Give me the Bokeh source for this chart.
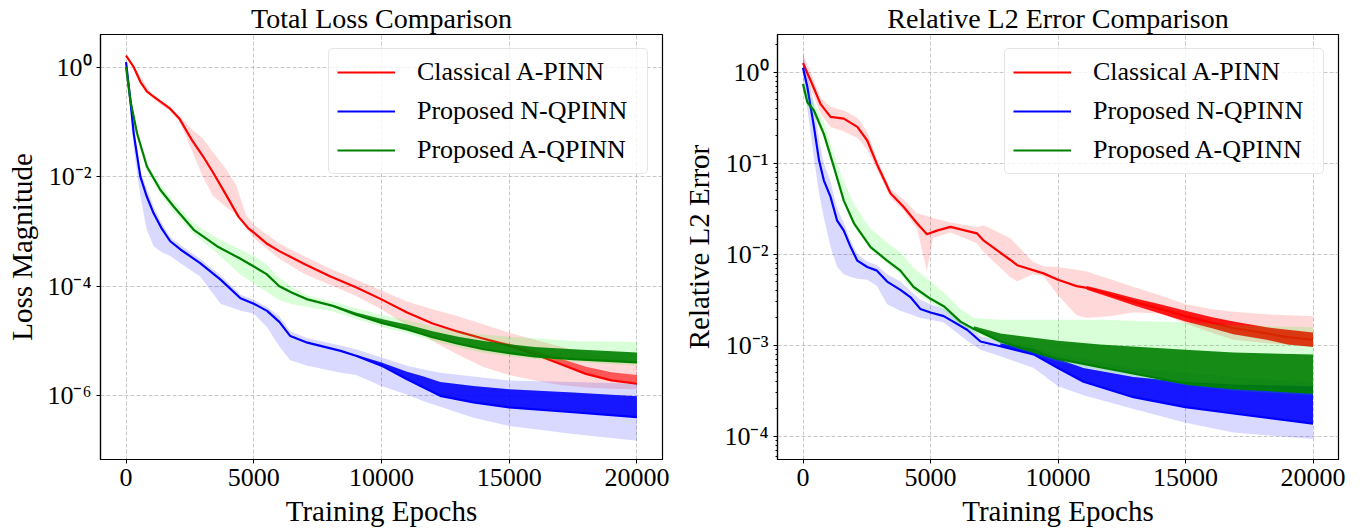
from bokeh.plotting import figure
from bokeh.models import FixedTicker, CustomJSTickFormatter, Range1d, Legend
from bokeh.layouts import row
from bokeh.embed import file_html
from bokeh.resources import INLINE

FONT = "Liberation Serif"

# ---------------- Left panel: Total Loss ----------------
loss_red_ep = [0, 300, 560, 820, 1200, 1700, 2100, 2600, 3000, 3400, 3900, 4400, 4800, 5000, 5500, 6000,
               7000, 8000, 9000, 10000, 11000, 12000, 13000, 14000, 15000, 16000, 17000, 18000, 19000, 20000]
loss_red_mean = [1.62, 1.0, 0.537, 0.355, 0.263, 0.178, 0.112, 0.0447, 0.024, 0.012, 4.79e-3, 1.86e-3, 1.12e-3,
                 9.55e-4, 6.03e-4, 4.37e-4, 2.51e-4, 1.51e-4, 9.55e-5, 5.75e-5, 3.31e-5, 2.09e-5, 1.48e-5,
                 1.10e-5, 8.13e-6, 5.75e-6, 3.80e-6, 2.51e-6, 1.91e-6, 1.66e-6]
loss_red_band_ep = [0, 1000, 1700, 2100, 2600, 3000, 3400, 3900, 4300, 4700, 5000, 6000, 7000, 8000, 9000,
                    10000, 11000, 12000, 13000, 14000, 15000, 16000, 17000, 18000, 19000, 20000]
loss_red_hi = [1.70, 0.324, 0.191, 0.126, 0.0708, 0.0501, 0.0282, 0.0141, 7.08e-3, 2.00e-3, 1.32e-3, 6.03e-4,
               3.47e-4, 2.09e-4, 1.32e-4, 8.32e-5, 5.25e-5, 3.80e-5, 2.82e-5, 2.00e-5, 1.41e-5, 1.05e-5,
               7.94e-6, 6.03e-6, 5.01e-6, 4.17e-6]
loss_red_lo = [1.55, 0.275, 0.158, 0.100, 0.0282, 0.0100, 4.47e-3, 2.82e-3, 2.09e-3, 1.20e-3, 7.59e-4, 3.16e-4,
               1.66e-4, 1.05e-4, 6.61e-5, 3.80e-5, 1.91e-5, 1.00e-5, 5.62e-6, 3.31e-6, 2.40e-6, 1.91e-6,
               1.58e-6, 1.41e-6, 1.35e-6, 1.32e-6]
loss_red_noise_ep = [14000, 15000, 16000, 17000, 18000, 19000, 20000]
loss_red_noise_lo = [1.10e-5, 8.13e-6, 5.75e-6, 3.80e-6, 2.51e-6, 1.91e-6, 1.66e-6]
loss_red_noise_hi = [1.15e-5, 8.91e-6, 6.76e-6, 4.79e-6, 3.39e-6, 2.69e-6, 2.40e-6]

loss_blue_ep = [0, 170, 300, 560, 800, 1080, 1400, 1730, 2130, 2900, 3700, 4480, 5000, 5520, 6000, 6430, 7100,
                8400, 9000, 10000, 11000, 11650, 12300, 13600, 15000, 17500, 20000]
loss_blue_mean = [1.23, 0.245, 0.0617, 0.0100, 4.47e-3, 2.14e-3, 1.12e-3, 6.61e-4, 4.68e-4, 2.63e-4, 1.32e-4,
                  6.03e-5, 4.79e-5, 3.55e-5, 2.24e-5, 1.23e-5, 9.33e-6, 6.61e-6, 5.37e-6, 3.55e-6, 2.00e-6,
                  1.41e-6, 1.00e-6, 7.59e-7, 6.17e-7, 5.01e-7, 4.07e-7]
loss_blue_hi = [1.32, 0.316, 0.0794, 0.0126, 6.31e-3, 2.82e-3, 1.41e-3, 7.94e-4, 5.62e-4, 3.16e-4, 1.58e-4,
                7.08e-5, 5.62e-5, 4.17e-5, 2.82e-5, 1.51e-5, 1.12e-5, 8.32e-6, 7.08e-6, 5.01e-6, 3.55e-6,
                3.02e-6, 2.63e-6, 2.24e-6, 1.91e-6, 1.78e-6, 1.66e-6]
loss_blue_lo = [1.12, 0.158, 0.0316, 4.47e-3, 1.12e-3, 5.37e-4, 4.17e-4, 3.55e-4, 2.63e-4, 1.51e-4, 4.79e-5,
                3.55e-5, 3.16e-5, 1.78e-5, 7.94e-6, 4.47e-6, 3.55e-6, 2.63e-6, 2.40e-6, 1.51e-6, 1.05e-6,
                7.94e-7, 6.31e-7, 3.98e-7, 2.82e-7, 2.00e-7, 1.51e-7]
loss_blue_noise_ep = [9000, 10000, 11000, 11650, 12300, 13600, 15000, 17500, 20000]
loss_blue_noise_lo = [5.37e-6, 3.55e-6, 2.00e-6, 1.41e-6, 1.00e-6, 7.59e-7, 6.17e-7, 5.01e-7, 4.07e-7]
loss_blue_noise_hi = [5.62e-6, 4.07e-6, 2.75e-6, 2.24e-6, 1.78e-6, 1.51e-6, 1.32e-6, 1.15e-6, 9.77e-7]

loss_green_ep = [0, 170, 430, 820, 1340, 1870, 2650, 3560, 4480, 5000, 5500, 6000, 6500, 7100, 8100, 9000,
                 10000, 11000, 12000, 13000, 14000, 15000, 16000, 17500, 20000]
loss_green_mean = [1.0, 0.245, 0.0617, 0.0151, 5.75e-3, 2.82e-3, 1.07e-3, 5.37e-4, 3.16e-4, 2.29e-4, 1.66e-4,
                   1.00e-4, 7.59e-5, 5.75e-5, 4.37e-5, 3.02e-5, 2.14e-5, 1.62e-5, 1.17e-5, 8.91e-6, 7.08e-6,
                   6.03e-6, 5.25e-6, 4.68e-6, 4.07e-6]
loss_green_hi = [1.05, 0.282, 0.0708, 0.0178, 7.08e-3, 3.55e-3, 1.41e-3, 7.59e-4, 4.68e-4, 3.55e-4, 2.51e-4,
                 1.41e-4, 9.55e-5, 6.76e-5, 5.25e-5, 3.98e-5, 3.02e-5, 2.40e-5, 1.86e-5, 1.51e-5, 1.32e-5,
                 1.20e-5, 1.12e-5, 1.00e-5, 9.55e-6]
loss_green_lo = [0.955, 0.219, 0.0525, 0.0126, 4.79e-3, 2.24e-3, 8.91e-4, 3.98e-4, 1.62e-4, 1.12e-4, 7.94e-5,
                 5.62e-5, 4.68e-5, 4.17e-5, 3.47e-5, 2.51e-5, 1.82e-5, 1.38e-5, 1.00e-5, 7.59e-6, 6.03e-6,
                 5.25e-6, 4.68e-6, 4.17e-6, 3.55e-6]
loss_green_noise_ep = [8100, 9000, 10000, 11000, 12000, 13000, 14000, 15000, 16000, 17500, 20000]
loss_green_noise_lo = [4.37e-5, 3.02e-5, 2.14e-5, 1.62e-5, 1.17e-5, 8.91e-6, 7.08e-6, 6.03e-6, 5.25e-6,
                       4.68e-6, 4.07e-6]
loss_green_noise_hi = [4.57e-5, 3.31e-5, 2.51e-5, 2.00e-5, 1.51e-5, 1.20e-5, 1.00e-5, 8.71e-6, 7.76e-6,
                       7.08e-6, 6.17e-6]

# ---------------- Right panel: Relative L2 error ----------------
err_red_ep = [0, 300, 690, 1080, 1600, 2130, 2520, 2900, 3430, 3950, 4470, 4860, 5250, 5780, 6820, 7090, 8120,
              8400, 9430, 10000, 10730, 11130, 12000, 12960, 14000, 15000, 16000, 16880, 18180, 19000, 20000]
err_red_mean = [1.26, 0.813, 0.447, 0.324, 0.309, 0.251, 0.178, 0.0977, 0.0468, 0.0331, 0.0219, 0.0166, 0.0182,
                0.0200, 0.0170, 0.0141, 8.71e-3, 7.59e-3, 6.17e-3, 5.25e-3, 4.47e-3, 4.27e-3, 3.63e-3,
                3.02e-3, 2.51e-3, 2.09e-3, 1.78e-3, 1.55e-3, 1.35e-3, 1.23e-3, 1.15e-3]
err_red_band_ep = [0, 300, 690, 1080, 1600, 2130, 2520, 2900, 3430, 3950, 4470, 4860, 5100, 5780, 6820, 7090,
                   8120, 8400, 9000, 9430, 10000, 10730, 11130, 12000, 12960, 14000, 15000, 16000, 16880,
                   18180, 20000]
err_red_hi = [1.58, 1.0, 0.525, 0.417, 0.380, 0.316, 0.224, 0.112, 0.0525, 0.0398, 0.0282, 0.0263, 0.0251,
              0.0224, 0.0200, 0.0209, 0.0151, 0.0126, 8.32e-3, 7.41e-3, 7.24e-3, 6.76e-3, 6.46e-3, 5.37e-3,
              4.37e-3, 3.55e-3, 2.82e-3, 2.51e-3, 2.34e-3, 2.19e-3, 2.09e-3]
err_red_lo = [1.12, 0.661, 0.355, 0.251, 0.224, 0.191, 0.141, 0.0851, 0.0417, 0.0302, 0.0191, 6.61e-3, 0.0151,
              0.0174, 0.0132, 0.0105, 5.62e-3, 5.01e-3, 6.03e-3, 5.75e-3, 3.55e-3, 2.14e-3, 2.00e-3, 2.09e-3,
              2.29e-3, 2.24e-3, 1.74e-3, 1.38e-3, 1.15e-3, 1.05e-3, 9.77e-4]
err_red_noise_ep = [11130, 12000, 12960, 14000, 15000, 16000, 16880, 18180, 19000, 20000]
err_red_noise_hi = [4.47e-3, 3.89e-3, 3.31e-3, 2.82e-3, 2.40e-3, 2.04e-3, 1.82e-3, 1.58e-3, 1.48e-3, 1.38e-3]
err_red_noise_lo = [4.07e-3, 3.39e-3, 2.75e-3, 2.24e-3, 1.82e-3, 1.55e-3, 1.32e-3, 1.15e-3, 1.02e-3, 9.55e-4]

err_blue_ep = [0, 170, 430, 630, 820, 1080, 1340, 1600, 1870, 2130, 2520, 2900, 3300, 3820, 4210, 4600, 5000,
               5520, 6435, 6960, 7740, 9045, 10000, 11000, 12960, 15000, 16880, 20000]
err_blue_mean = [1.12, 0.692, 0.251, 0.107, 0.0646, 0.0427, 0.0234, 0.0182, 0.0120, 8.51e-3, 7.24e-3, 6.61e-3,
                 5.01e-3, 4.07e-3, 3.39e-3, 2.51e-3, 2.29e-3, 2.09e-3, 1.48e-3, 1.10e-3, 9.77e-4, 7.94e-4,
                 5.62e-4, 3.98e-4, 2.69e-4, 2.09e-4, 1.78e-4, 1.38e-4]
err_blue_hi = [1.66, 1.0, 0.447, 0.178, 0.100, 0.0631, 0.0316, 0.0224, 0.0141, 0.0100, 8.32e-3, 7.59e-3,
               6.03e-3, 5.01e-3, 3.98e-3, 3.16e-3, 2.82e-3, 2.51e-3, 1.66e-3, 1.26e-3, 1.12e-3, 9.55e-4,
               7.94e-4, 7.08e-4, 5.62e-4, 5.01e-4, 4.47e-4, 3.98e-4]
err_blue_lo = [0.891, 0.398, 0.112, 0.0468, 0.0251, 0.0120, 7.24e-3, 6.03e-3, 5.62e-3, 5.37e-3, 5.25e-3,
               4.47e-3, 2.82e-3, 2.40e-3, 2.19e-3, 2.00e-3, 1.91e-3, 1.78e-3, 1.12e-3, 8.91e-4, 7.59e-4,
               5.62e-4, 3.55e-4, 2.82e-4, 2.00e-4, 1.41e-4, 1.10e-4, 9.33e-5]
err_blue_noise_ep = [7740, 9045, 10000, 11000, 12960, 15000, 16880, 20000]
err_blue_noise_lo = [9.77e-4, 7.94e-4, 5.62e-4, 3.98e-4, 2.69e-4, 2.09e-4, 1.78e-4, 1.38e-4]
err_blue_noise_hi = [1.05e-3, 9.12e-4, 7.08e-4, 5.62e-4, 4.47e-4, 3.98e-4, 3.72e-4, 3.55e-4]

err_green_ep = [0, 170, 430, 820, 1210, 1600, 2000, 2650, 3300, 3820, 4340, 5000, 5520, 6175, 6700, 7740,
                10000, 11650, 15000, 16880, 20000]
err_green_mean = [0.741, 0.468, 0.380, 0.209, 0.0912, 0.0389, 0.0219, 0.0120, 8.51e-3, 6.61e-3, 4.37e-3,
                  3.24e-3, 2.69e-3, 1.82e-3, 1.51e-3, 1.10e-3, 7.08e-4, 5.75e-4, 3.80e-4, 3.39e-4, 3.02e-4]
err_green_hi = [0.891, 0.603, 0.468, 0.282, 0.126, 0.0631, 0.0355, 0.0191, 0.0135, 0.0105, 7.08e-3, 5.01e-3,
                3.80e-3, 2.51e-3, 2.00e-3, 1.91e-3, 1.91e-3, 1.91e-3, 1.78e-3, 1.66e-3, 1.58e-3]
err_green_lo = [0.603, 0.417, 0.331, 0.191, 0.0832, 0.0355, 0.0200, 0.0112, 7.94e-3, 6.03e-3, 3.98e-3,
                2.95e-3, 2.40e-3, 1.66e-3, 1.38e-3, 1.05e-3, 6.61e-4, 5.25e-4, 3.63e-4, 3.16e-4, 2.82e-4]
err_green_noise_ep = [6700, 7740, 10000, 11650, 15000, 16880, 20000]
err_green_noise_lo = [1.51e-3, 1.10e-3, 7.08e-4, 5.75e-4, 3.80e-4, 3.39e-4, 3.02e-4]
err_green_noise_hi = [1.62e-3, 1.35e-3, 1.12e-3, 1.02e-3, 8.91e-4, 8.32e-4, 7.94e-4]

x_ticks = [0, 5000, 10000, 15000, 20000]
loss_y_ticks = [1e-6, 1e-4, 1e-2, 1e0]
err_y_ticks = [1e-4, 1e-3, 1e-2, 1e-1, 1e0]
err_y_minor = [m * 10.0 ** k for k in range(-5, 1) for m in range(2, 10)]

labels = ["Classical A-PINN", "Proposed N-QPINN", "Proposed A-QPINN"]
colors = ["#ff0000", "#0000ff", "#008000"]
band_colors = ["#ff0000", "#0000ff", "#00ff00"]

SUP = CustomJSTickFormatter(code="""
const sup = {"-":"\u207b","0":"\u2070","1":"\u00b9","2":"\u00b2","3":"\u00b3","4":"\u2074",
             "5":"\u2075","6":"\u2076","7":"\u2077","8":"\u2078","9":"\u2079"};
const e = Math.round(Math.log10(tick));
return "10" + String(e).split("").map(c => sup[c]).join("");
""")


def make_panel(title, ylabel, yr, yticks, yminor, series, width, bl, br):
    p = figure(width=width, height=529, y_axis_type="log", x_range=Range1d(-1000, 21000),
               y_range=Range1d(*yr), output_backend="svg", toolbar_location=None,
               min_border_left=bl, min_border_right=br, min_border_top=33, min_border_bottom=68)
    p.title.text = title
    p.title.align = "center"
    p.title.text_font = FONT
    p.title.text_font_size = "28px"
    p.title.text_font_style = "normal"
    p.title.text_color = "black"
    p.title.standoff = 1
    p.outline_line_color = "black"
    p.outline_line_width = 1.2
    p.background_fill_color = "white"
    p.border_fill_color = "white"

    p.xaxis.ticker = FixedTicker(ticks=x_ticks, minor_ticks=[])
    p.yaxis.ticker = FixedTicker(ticks=yticks, minor_ticks=yminor)
    p.yaxis.formatter = SUP
    p.xaxis.axis_label = "Training Epochs"
    p.yaxis.axis_label = ylabel
    for ax in (p.xaxis[0], p.yaxis[0]):
        ax.axis_label_text_font = FONT
        ax.axis_label_text_font_size = "29px"
        ax.axis_label_text_font_style = "normal"
        ax.axis_label_text_color = "black"
        ax.major_label_text_font = FONT
        ax.major_label_text_font_size = "26px"
        ax.major_label_text_color = "black"
        ax.axis_line_color = "black"
        ax.axis_line_width = 1.2
        ax.major_tick_line_color = "black"
        ax.minor_tick_line_color = "black"
        ax.major_tick_out = 4
        ax.major_tick_in = 0
        ax.minor_tick_out = 2
        ax.minor_tick_in = 0
        ax.major_label_standoff = 5
        ax.axis_label_standoff = 6
    p.grid.grid_line_color = "#b0b0b0"
    p.grid.grid_line_alpha = 0.7
    p.grid.grid_line_dash = "4 2"
    p.grid.grid_line_width = 1

    for i, s in enumerate(series):
        p.varea(x=s["band_ep"], y1=s["lo"], y2=s["hi"], fill_color=band_colors[i], fill_alpha=0.15)
        if s.get("noise_ep"):
            p.varea(x=s["noise_ep"], y1=s["noise_lo"], y2=s["noise_hi"], fill_color=colors[i],
                    fill_alpha=s.get("noise_alpha", 0.9))
        p.line(x=s["ep"], y=s["mean"], line_color=colors[i], line_width=2.2, legend_label=labels[i])

    lg = p.legend[0]
    lg.location = "top_right"
    lg.margin = 14
    lg.padding = 8
    lg.spacing = 9
    lg.glyph_width = 58
    lg.glyph_height = 30
    lg.label_height = 30
    lg.label_width = 222
    lg.label_standoff = 22
    lg.label_text_font = FONT
    lg.label_text_font_size = "26px"
    lg.label_text_color = "black"
    lg.border_line_color = "#cccccc"
    lg.border_line_width = 1
    lg.background_fill_alpha = 0.8
    if "border_radius" in Legend.properties():
        lg.border_radius = 5
    return p


left_series = [
    dict(ep=loss_red_ep, mean=loss_red_mean, band_ep=loss_red_band_ep, lo=loss_red_lo, hi=loss_red_hi,
         noise_ep=loss_red_noise_ep, noise_lo=loss_red_noise_lo, noise_hi=loss_red_noise_hi, noise_alpha=0.6),
    dict(ep=loss_blue_ep, mean=loss_blue_mean, band_ep=loss_blue_ep, lo=loss_blue_lo, hi=loss_blue_hi,
         noise_ep=loss_blue_noise_ep, noise_lo=loss_blue_noise_lo, noise_hi=loss_blue_noise_hi),
    dict(ep=loss_green_ep, mean=loss_green_mean, band_ep=loss_green_ep, lo=loss_green_lo, hi=loss_green_hi,
         noise_ep=loss_green_noise_ep, noise_lo=loss_green_noise_lo, noise_hi=loss_green_noise_hi),
]
right_series = [
    dict(ep=err_red_ep, mean=err_red_mean, band_ep=err_red_band_ep, lo=err_red_lo, hi=err_red_hi,
         noise_ep=err_red_noise_ep, noise_lo=err_red_noise_lo, noise_hi=err_red_noise_hi),
    dict(ep=err_blue_ep, mean=err_blue_mean, band_ep=err_blue_ep, lo=err_blue_lo, hi=err_blue_hi,
         noise_ep=err_blue_noise_ep, noise_lo=err_blue_noise_lo, noise_hi=err_blue_noise_hi),
    dict(ep=err_green_ep, mean=err_green_mean, band_ep=err_green_ep, lo=err_green_lo, hi=err_green_hi,
         noise_ep=err_green_noise_ep, noise_lo=err_green_noise_lo, noise_hi=err_green_noise_hi),
]

p1 = make_panel("Total Loss Comparison", "Loss Magnitude", (6.88e-8, 3.92), loss_y_ticks, [],
                left_series, 680, 100, 18)
p2 = make_panel("Relative L2 Error Comparison", "Relative L2 Error", (5.56e-5, 2.60), err_y_ticks, err_y_minor,
                right_series, 687, 96, 29)

layout = row(p1, p2)
open("out.html", "w").write(file_html(layout, INLINE))
